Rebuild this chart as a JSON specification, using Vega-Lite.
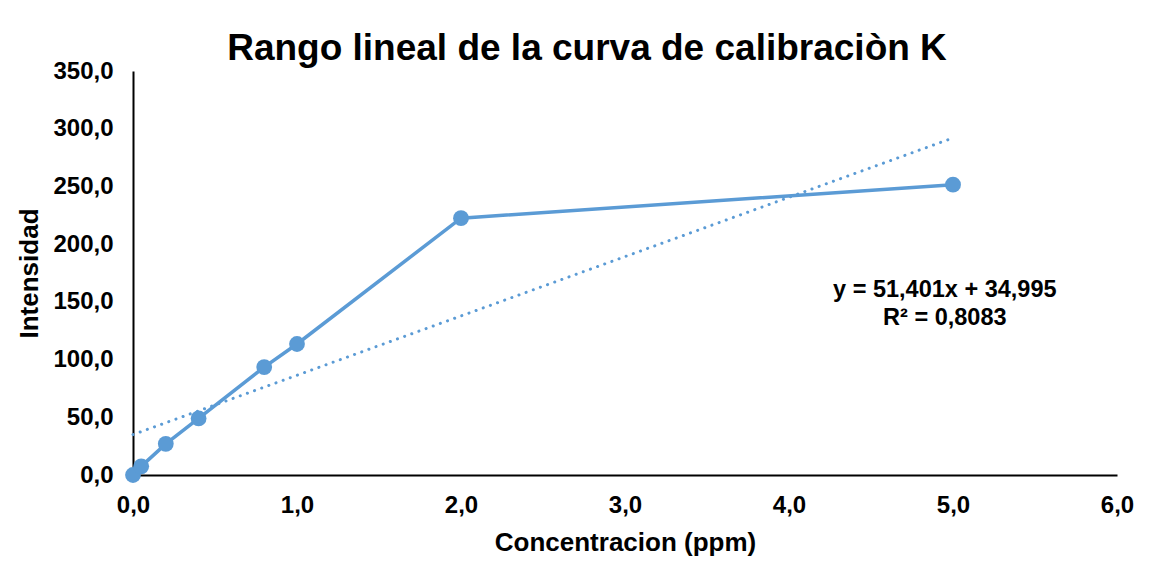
{
  "$schema": "https://vega.github.io/schema/vega-lite/v6.json",
  "autosize": {"type": "none"},
  "padding": {"left": 133, "top": 71, "right": 42, "bottom": 102},
  "width": 984,
  "height": 404,
  "background": "white",
  "title": {
    "text": "Rango lineal de la curva de calibraciòn K",
    "font": "Liberation Sans",
    "fontSize": 37,
    "fontWeight": "bold",
    "color": "#000000",
    "anchor": "middle",
    "dx": -38,
    "offset": -9
  },
  "datasets": {
    "pts": [
      {"c": 0, "i": 0},
      {"c": 0.05, "i": 7.5},
      {"c": 0.2, "i": 27},
      {"c": 0.4, "i": 49},
      {"c": 0.8, "i": 93.5},
      {"c": 1.0, "i": 113.5},
      {"c": 2.0, "i": 222.5},
      {"c": 5.0, "i": 251.5}
    ],
    "trend": [
      {"c": 0, "i": 34.995},
      {"c": 5, "i": 291.998}
    ],
    "eq": [
      {"c": 4.95, "i": 160, "t": ["y = 51,401x + 34,995", "R² = 0,8083"]}
    ]
  },
  "layer": [
    {
      "data": {"name": "trend"},
      "mark": {"type": "line", "color": "#5B9BD5", "strokeWidth": 3, "strokeDash": [0.1, 7.5], "strokeCap": "round"},
      "encoding": {
        "x": {"field": "c", "type": "quantitative"},
        "y": {"field": "i", "type": "quantitative"}
      }
    },
    {
      "data": {"name": "pts"},
      "mark": {"type": "line", "color": "#5B9BD5", "strokeWidth": 3.5, "point": {"filled": true, "size": 250, "color": "#5B9BD5", "opacity": 1}},
      "encoding": {
        "x": {
          "field": "c", "type": "quantitative",
          "scale": {"domain": [0, 6], "nice": false, "zero": true},
          "axis": {
            "title": "Concentracion (ppm)",
            "values": [0, 1, 2, 3, 4, 5, 6],
            "labelExpr": "replace(format(datum.value, '.1f'), '.', ',')",
            "labelFlush": false,
            "grid": false, "ticks": false,
            "domainColor": "#000000", "domainWidth": 2,
            "labelFont": "Liberation Sans", "labelFontSize": 24, "labelFontWeight": "bold", "labelColor": "#000000",
            "labelPadding": 18,
            "titleFont": "Liberation Sans", "titleFontSize": 26, "titleFontWeight": "bold", "titleColor": "#000000",
            "titlePadding": 12
          }
        },
        "y": {
          "field": "i", "type": "quantitative",
          "scale": {"domain": [0, 350], "nice": false},
          "axis": {
            "title": "Intensidad",
            "values": [0, 50, 100, 150, 200, 250, 300, 350],
            "labelExpr": "replace(format(datum.value, '.1f'), '.', ',')",
            "labelFlush": false,
            "grid": false, "ticks": false,
            "domainColor": "#000000", "domainWidth": 2,
            "labelFont": "Liberation Sans", "labelFontSize": 24, "labelFontWeight": "bold", "labelColor": "#000000",
            "labelPadding": 20,
            "titleFont": "Liberation Sans", "titleFontSize": 26, "titleFontWeight": "bold", "titleColor": "#000000",
            "titlePadding": 10
          }
        }
      }
    },
    {
      "data": {"name": "eq"},
      "mark": {"type": "text", "font": "Liberation Sans", "fontSize": 23.5, "fontWeight": "bold", "color": "#000000", "align": "center", "baseline": "middle", "lineHeight": 28},
      "encoding": {
        "x": {"field": "c", "type": "quantitative"},
        "y": {"field": "i", "type": "quantitative"},
        "text": {"field": "t"}
      }
    }
  ],
  "config": {"view": {"stroke": null}}
}
